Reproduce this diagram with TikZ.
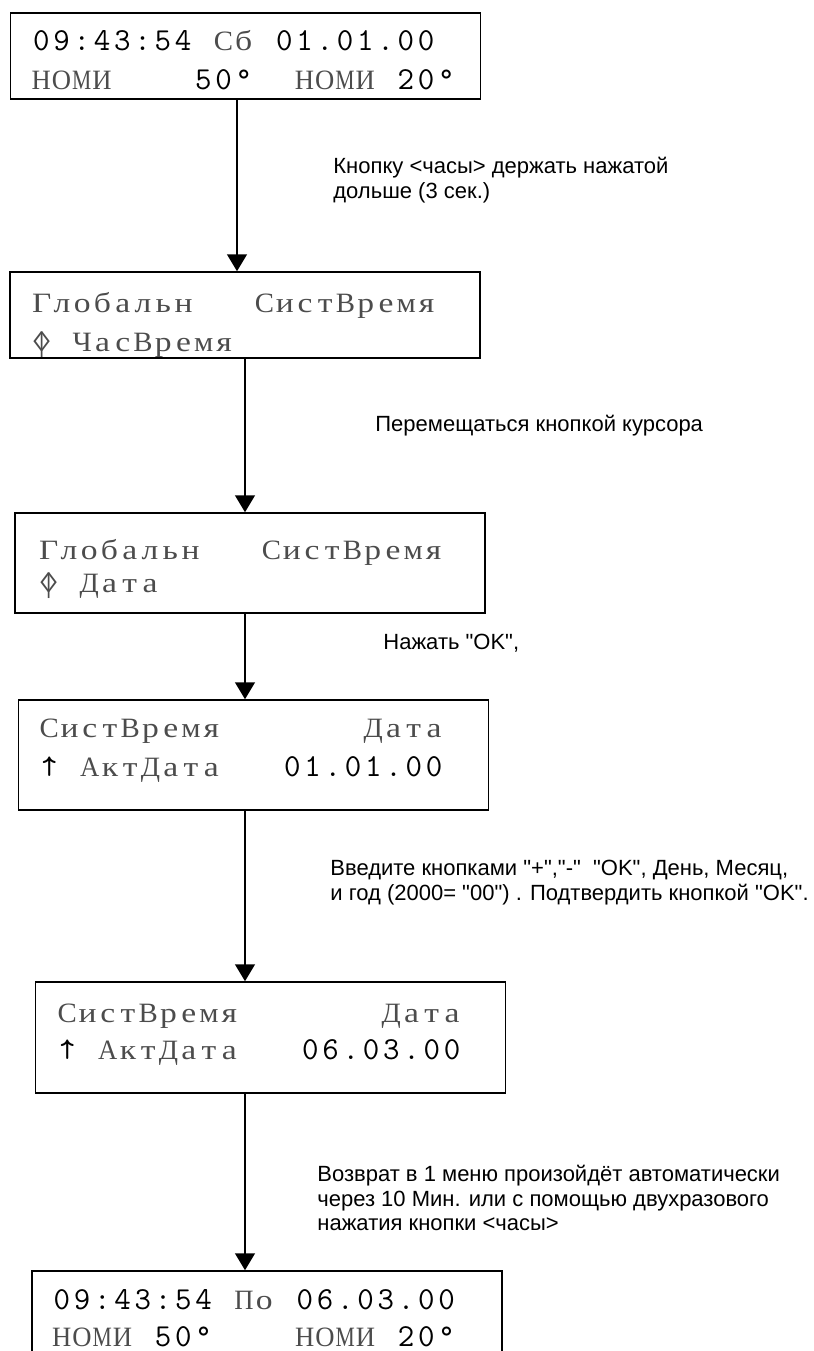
\documentclass[tikz,border=0pt]{standalone}
\usepackage{fontspec}
\usepackage{graphicx}
\usetikzlibrary{arrows.meta}
\newfontfamily\cyrfont{Liberation Serif}[FakeStretch=1.2]
\newfontfamily\notefont{Liberation Sans}
\newcommand\cyr{\cyrfont\fontsize{14}{18}\selectfont\color{black!70}}
\newcommand\lozbar{{\cyr\makebox[0pt]{◊}\makebox[0pt]{|}}}

% строка индикатора: каждый знак в своей клетке
\makeatletter
\newlength\lcdw \setlength\lcdw{10.125pt}
\newsavebox\lcdbox
\def\lcd@stop{\lcd@stop}
\newcommand\lcdrow[1]{\lcd@next#1\lcd@stop}
\def\lcd@next#1{%
  \ifx#1\lcd@stop\else
    \lcd@cell{#1}%
    \expandafter\lcd@next
  \fi}
\def\lcd@cyr#1{\sbox\lcdbox{\cyr#1}%
  \ifdim\wd\lcdbox>0.95\lcdw\resizebox{0.95\lcdw}{\ht\lcdbox}{\usebox\lcdbox}\else\usebox\lcdbox\fi}
\def\lcd@cell#1{\makebox[\lcdw]{\ifx#1\lozbar\lozbar\else
  \iffontchar\font`#1\relax#1\else\lcd@cyr{#1}\fi\fi}}
\makeatother

\begin{document}
\begin{tikzpicture}[x=0.5pt, y=-0.5pt, >={Triangle[width=10pt,length=8.5pt]},
  lcd/.style={draw, line width=0.75pt, minimum width=235pt, minimum height=#1, inner sep=0pt},
  row/.style={font=\ttfamily\fontsize{16}{18}\selectfont, anchor=base west, inner sep=0pt},
  note/.style={font=\notefont\fontsize{11}{12.25}\selectfont, align=left, anchor=north west, inner sep=0pt},
  flow/.style={->, line width=0.75pt}]
    \useasboundingbox (0,0) rectangle (814,1351);

    % Экран 1
    \node[lcd=43pt] (d1) at (245.5,56) {};
    \node[row] (d1a) at ([shift={(21,38)}]d1.north west) {\lcdrow{09:43:54~Сб~01.01.00}};
    \node[row] (d1b) at ([shift={(21,77)}]d1.north west) {\lcdrow{НОМИ~~~~50°~~НОМИ~20°}};

    % Экран 2
    \node[lcd=43pt] (d2) at (245,315) {};
    \node[row] (d2a) at ([shift={(22,41)}]d2.north west) {\lcdrow{Глобальн~~~СистВремя}};
    \node[row] (d2b) at ([shift={(22,80)}]d2.north west) {\lcdrow{\lozbar~ЧасВремя}};

    % Экран 3
    \node[lcd=50pt] (d3) at (250,563) {};
    \node[row] (d3a) at ([shift={(24,47)}]d3.north west) {\lcdrow{Глобальн~~~СистВремя}};
    \node[row] (d3b) at ([shift={(24,80)}]d3.north west) {\lcdrow{\lozbar~Дата}};

    % Экран 4
    \node[lcd=55pt] (d4) at (253.5,755) {};
    \node[row] (d4a) at ([shift={(21,38)}]d4.north west) {\lcdrow{СистВремя~~~~~~~Дата}};
    \node[row] (d4b) at ([shift={(21,77)}]d4.north west) {\lcdrow{↑~АктДата~~~01.01.00}};

    % Экран 5
    \node[lcd=55.5pt] (d5) at (270.5,1037.5) {};
    \node[row] (d5a) at ([shift={(22,41)}]d5.north west) {\lcdrow{СистВремя~~~~~~~Дата}};
    \node[row] (d5b) at ([shift={(22,78)}]d5.north west) {\lcdrow{↑~АктДата~~~06.03.00}};

    % Экран 6 (снизу обрезан)
    \node[lcd=55pt] (d6) at (267,1326) {};
    \node[row] (d6a) at ([shift={(20,39)}]d6.north west) {\lcdrow{09:43:54~По~06.03.00}};
    \node[row] (d6b) at ([shift={(20,76)}]d6.north west) {\lcdrow{НОМИ~50°~~~~НОМИ~20°}};

    % Переходы
    \draw[flow] ([xshift=-4.25pt]d1.south) -- ([xshift=-4pt]d2.north);
    \draw[flow] (d2.south) -- ([xshift=-2.5pt]d3.north);
    \draw[flow] ([xshift=-2.5pt]d3.south) -- ([xshift=-4.25pt]d4.north);
    \draw[flow] ([xshift=-4.25pt]d4.south) -- ([xshift=-12.75pt]d5.north);
    \draw[flow] ([xshift=-12.75pt]d5.south) -- ([xshift=-11pt]d6.north);

    % Пояснения
    \node[note] (n1) at (333,157) {Кнопку <часы> держать нажатой\\дольше (3 сек.)};
    \node[note] (n2) at (375,415) {Перемещаться кнопкой курсора};
    \node[note] (n3) at (383,634) {Нажать "OK",};
    \node[note] (n4) at (330,860) {Введите кнопками "+","-"\ \ "OK", День, Месяц,\\и год (2000= "00") . Подтвердить кнопкой "OK".};
    \node[note] (n5) at (317,1165) {Возврат в 1 меню произойдёт автоматически\\через 10 Мин. или с помощью двухразового\\нажатия кнопки <часы>};
\end{tikzpicture}
\end{document}
